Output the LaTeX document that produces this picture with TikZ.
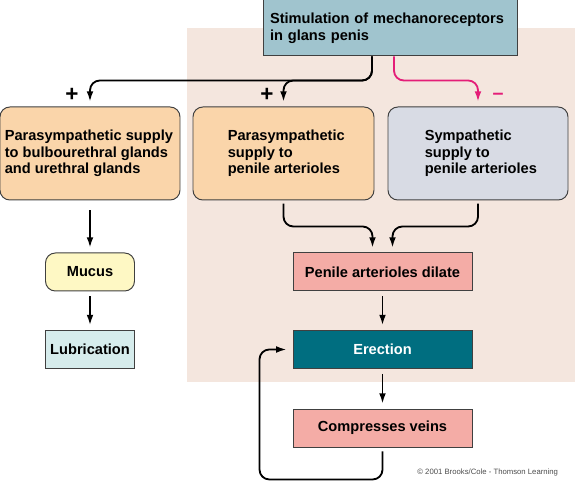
\documentclass[tikz,border=0pt]{standalone}
\usepackage{fontspec}
\setmainfont{Liberation Sans}
\definecolor{bgpink}{RGB}{244,230,222}
\definecolor{stimblue}{RGB}{160,196,206}
\definecolor{peach}{RGB}{250,213,170}
\definecolor{lavgrey}{RGB}{216,219,228}
\definecolor{mucusyellow}{RGB}{254,248,196}
\definecolor{lubcyan}{RGB}{214,236,236}
\definecolor{salmon}{RGB}{244,172,166}
\definecolor{erectteal}{RGB}{0,110,128}
\definecolor{inhibmag}{RGB}{228,30,120}
\usetikzlibrary{arrows.meta, positioning, calc}

\begin{document}
\begin{tikzpicture}[
  box/.style={draw=black!75, line width=0.7pt, font=\fontsize{10.4}{11.8}\selectfont\bfseries, align=center, inner sep=3pt},
  nbox/.style={box, rounded corners=7pt, minimum height=2.325cm},
  ntext/.style={font=\fontsize{10.4}{11.8}\selectfont\bfseries, align=left, inner sep=0pt},
  sbox/.style={box, minimum width=2.225cm, minimum height=0.95cm},
  wbox/.style={box, minimum width=4.475cm, minimum height=0.95cm},
  arr/.style={-{Latex[length=2.6mm,width=1.7mm]}, line width=1.3pt, rounded corners=7pt, shorten >=0.12cm},
  sign/.style={font=\fontsize{16}{16}\selectfont\bfseries}
]
  \useasboundingbox (0,0) rectangle (14.375,12.05);
  \fill[bgpink] (4.675,2.5) rectangle (14.375,11.35);

  \node[box, fill=stimblue, text width=6.0cm, align=left, minimum width=6.35cm, minimum height=1.4cm, inner xsep=0pt] (stim) at (9.75,11.35) {Stimulation of mechanoreceptors\\in glans penis};

  \node[nbox, fill=peach, minimum width=4.5cm] (bulb) at (2.25,8.2125) {};
  \node[nbox, fill=peach, minimum width=4.525cm] (par) at (7.0875,8.2125) {};
  \node[nbox, fill=lavgrey, minimum width=4.5cm] (symp) at (11.95,8.2125) {};
  \node[ntext, right=0.125cm of bulb.west] (bulbtext) {Parasympathetic supply\\to bulbourethral glands\\and urethral glands};
  \node[ntext, right=0.875cm of par.west] (partext) {Parasympathetic\\supply to\\penile arterioles};
  \node[ntext, right=0.925cm of symp.west] (symptext) {Sympathetic\\supply to\\penile arterioles};

  \node[sbox, fill=mucusyellow, rounded corners=7pt] (mucus) at (2.25,5.25) {Mucus};
  \node[sbox, fill=lubcyan] (lub) at (2.25,3.3125) {Lubrication};

  \node[wbox, fill=salmon] (dilate) at (9.5625,5.25) {Penile arterioles dilate};
  \node[wbox, fill=erectteal, text=white] (erect) at (9.5625,3.3125) {Erection};
  \node[wbox, fill=salmon] (compress) at (9.5625,1.35) {Compresses veins};

  \node[sign] (plusa) at (1.8,9.675) {+};
  \node[sign] (plusb) at (6.675,9.675) {+};
  \node[sign, text=inhibmag, font=\fontsize{14}{14}\selectfont\bfseries] (minus) at (12.45,9.65) {--};

  \draw[arr] ([xshift=-0.45cm]stim.south) |- ([yshift=0.65cm]bulb.north) -- (bulb.north);
  \draw[arr] ([xshift=-0.45cm]stim.south) |- ([yshift=0.65cm]par.north) -- (par.north);
  \draw[arr, inhibmag] ([xshift=0.1cm]stim.south) |- ([yshift=0.65cm]symp.north) -- (symp.north);

  \draw[arr, shorten <=0.25cm] (bulb.south) -- (mucus.north);
  \draw[arr, shorten <=0.12cm] (mucus.south) -- (lub.north);

  \draw[arr, shorten <=0.08cm] (par.south) |- ([xshift=-0.25cm,yshift=0.65cm]dilate.north) -- ([xshift=-0.25cm]dilate.north);
  \draw[arr, shorten <=0.08cm] (symp.south) |- ([xshift=0.25cm,yshift=0.65cm]dilate.north) -- ([xshift=0.25cm]dilate.north);

  \draw[arr, shorten <=0.12cm] (dilate.south) -- (erect.north);
  \draw[arr, shorten <=0.12cm] (erect.south) -- (compress.north);
  \draw[arr, shorten <=0.1cm, shorten >=0.15cm] (compress.south) -- ++(0,-0.8) -| ([xshift=-0.825cm]erect.west) -- (erect.west);

  \node[anchor=east, font=\fontsize{5.5}{6.5}\selectfont, text=black!70] (credit) at (14.075,0.225) {\textcopyright{} 2001 Brooks/Cole - Thomson Learning};
\end{tikzpicture}
\end{document}
